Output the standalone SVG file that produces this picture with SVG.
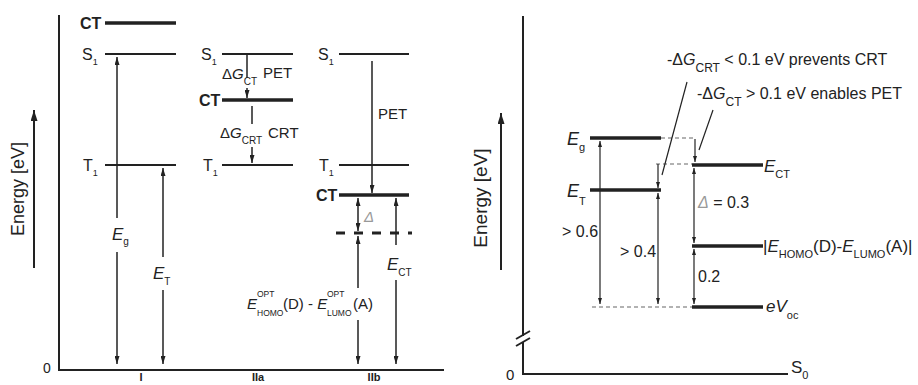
<svg xmlns="http://www.w3.org/2000/svg" width="918" height="385" viewBox="0 0 918 385">
<defs>
<style>
.t{font-family:"Liberation Sans",Arial,sans-serif;fill:#222}
.b{font-weight:bold}
.i{font-style:italic}
.g{fill:#999;font-style:italic}
.ax{stroke:#222;stroke-width:2;fill:none}
.lv{stroke:#222;stroke-width:2.2}
.lvb{stroke:#222;stroke-width:3.5}
.ar{stroke:#222;stroke-width:1.5;fill:none}
.ar2{stroke:#222;stroke-width:1.2;fill:none}
.ds{stroke:#666;stroke-width:1.2;stroke-dasharray:4 3;fill:none}
</style>
<marker id="a" viewBox="0 0 8 5" refX="8" refY="2.5" markerWidth="8" markerHeight="5" markerUnits="userSpaceOnUse" orient="auto-start-reverse"><path d="M0,0 L8,2.5 L0,5 z" fill="#222"/></marker>
<marker id="s" viewBox="0 0 6 4" refX="6" refY="2" markerWidth="6" markerHeight="4" markerUnits="userSpaceOnUse" orient="auto-start-reverse"><path d="M0,0 L6,2 L0,4 z" fill="#222"/></marker>
<marker id="big" viewBox="0 0 11 7" refX="11" refY="3.5" markerWidth="11" markerHeight="7" markerUnits="userSpaceOnUse" orient="auto-start-reverse"><path d="M0,0 L11,3.5 L0,7 z" fill="#222"/></marker>
</defs>
<rect width="918" height="385" fill="#fff"/>

<!-- LEFT PANEL -->
<g id="left-axes">
<line class="ax" x1="59" y1="15" x2="59" y2="370"/>
<line class="ax" x1="58" y1="370" x2="444" y2="370"/>
<line class="ax" x1="34" y1="268" x2="34" y2="110" marker-end="url(#big)"/>
<text class="t" font-size="18" transform="translate(24,189) rotate(-90)" text-anchor="middle">Energy [eV]</text>
<text class="t" font-size="14" x="43" y="373">0</text>
<text class="t b" font-size="11" x="141" y="381" text-anchor="middle">I</text>
<text class="t b" font-size="11" x="258" y="381" text-anchor="middle">IIa</text>
<text class="t b" font-size="11" x="374" y="381" text-anchor="middle">IIb</text>
</g>

<g id="I-CT"><line class="lvb" x1="105" y1="23" x2="176" y2="23"/><text class="t b" font-size="16" x="80" y="29">CT</text></g>
<g id="I-S1"><line class="lv" x1="105" y1="54" x2="176" y2="54"/><text class="t" font-size="16" x="82" y="60">S<tspan font-size="9" dy="5">1</tspan></text></g>
<g id="I-T1"><line class="lv" x1="105" y1="165" x2="176" y2="165"/><text class="t" font-size="16" x="83" y="171">T<tspan font-size="9" dy="5">1</tspan></text></g>

<g id="IIa-S1"><line class="lv" x1="222" y1="54" x2="293" y2="54"/><text class="t" font-size="16" x="201" y="60">S<tspan font-size="9" dy="5">1</tspan></text></g>
<g id="IIa-CT"><line class="lvb" x1="222" y1="100" x2="293" y2="100"/><text class="t b" font-size="16" x="199" y="106">CT</text></g>
<g id="IIa-T1"><line class="lv" x1="222" y1="165" x2="293" y2="165"/><text class="t" font-size="16" x="203" y="171">T<tspan font-size="9" dy="5">1</tspan></text></g>

<g id="IIb-S1"><line class="lv" x1="339" y1="54" x2="409" y2="54"/><text class="t" font-size="16" x="318" y="60">S<tspan font-size="9" dy="5">1</tspan></text></g>
<g id="IIb-T1"><line class="lv" x1="339" y1="165" x2="409" y2="165"/><text class="t" font-size="16" x="319" y="171">T<tspan font-size="9" dy="5">1</tspan></text></g>
<g id="IIb-CT"><line class="lvb" x1="339" y1="195" x2="409" y2="195"/><text class="t b" font-size="16" x="316" y="201">CT</text></g>
<g id="IIb-opt"><line x1="336" y1="233" x2="412" y2="233" stroke="#222" stroke-width="3" stroke-dasharray="9 9"/></g>

<g id="left-connectors">
<line class="ar" x1="117" y1="218" x2="117" y2="57" marker-end="url(#a)"/>
<line class="ar" x1="117" y1="252" x2="117" y2="364" marker-end="url(#a)"/>
<line class="ar" x1="163" y1="257" x2="163" y2="168" marker-end="url(#a)"/>
<line class="ar" x1="163" y1="290" x2="163" y2="364" marker-end="url(#a)"/>
<line class="ar" x1="247" y1="55" x2="247" y2="78"/>
<line class="ar" x1="247" y1="88" x2="247" y2="98" marker-end="url(#a)"/>
<line class="ar" x1="252" y1="106" x2="252" y2="124"/>
<line class="ar" x1="252" y1="147" x2="252" y2="163" marker-end="url(#a)"/>
<line class="ar" x1="372" y1="61" x2="372" y2="193" marker-end="url(#a)"/>
<line class="ar" x1="358" y1="198" x2="358" y2="231" marker-start="url(#a)" marker-end="url(#a)"/>
<line class="ar" x1="358" y1="288" x2="358" y2="236" marker-end="url(#a)"/>
<line class="ar" x1="358" y1="320" x2="358" y2="364" marker-end="url(#a)"/>
<line class="ar" x1="396" y1="245" x2="396" y2="198" marker-end="url(#a)"/>
<line class="ar" x1="396" y1="280" x2="396" y2="364" marker-end="url(#a)"/>
</g>

<g id="left-labels">
<text class="t" font-size="17" x="112" y="240"><tspan class="i">E</tspan><tspan font-size="10" dy="5">g</tspan></text>
<text class="t" font-size="17" x="153" y="279"><tspan class="i">E</tspan><tspan font-size="10" dy="6">T</tspan></text>
<text class="t" font-size="15" x="222" y="79">Δ<tspan class="i">G</tspan><tspan font-size="10" dy="6">CT</tspan></text>
<text class="t" font-size="15" x="263" y="78">PET</text>
<text class="t" font-size="15" x="220" y="138">Δ<tspan class="i">G</tspan><tspan font-size="10" dy="6">CRT</tspan></text>
<text class="t" font-size="15" x="268" y="138">CRT</text>
<text class="t" font-size="15" x="378" y="119">PET</text>
<text class="t g" font-size="15" x="364" y="222">Δ</text>
<text class="t" font-size="17" x="387" y="270"><tspan class="i">E</tspan><tspan font-size="10" dy="6">CT</tspan></text>
<text class="t" font-size="15" x="247" y="309"><tspan class="i">E</tspan></text>
<text class="t" font-size="8.5" x="257" y="297">OPT</text>
<text class="t" font-size="8.5" x="257" y="316">HOMO</text>
<text class="t" font-size="15" x="283" y="309">(D) - <tspan class="i">E</tspan></text>
<text class="t" font-size="8.5" x="327" y="297">OPT</text>
<text class="t" font-size="8.5" x="327" y="316">LUMO</text>
<text class="t" font-size="15" x="353" y="309">(A)</text>
</g>

<!-- RIGHT PANEL -->
<g id="right-axes">
<line class="ax" x1="523" y1="16" x2="523" y2="336"/>
<line class="ax" x1="523" y1="342" x2="523" y2="374"/>
<line class="ax" x1="516" y1="339" x2="530" y2="331"/>
<line class="ax" x1="516" y1="346" x2="530" y2="338"/>
<line class="ax" x1="522" y1="374" x2="788" y2="374"/>
<line class="ax" x1="501" y1="270" x2="501" y2="113" marker-end="url(#big)"/>
<text class="t" font-size="19" transform="translate(487,198) rotate(-90)" text-anchor="middle">Energy [eV]</text>
<text class="t" font-size="15" x="506" y="380">0</text>
<text class="t" font-size="17" x="791" y="373">S<tspan font-size="11" dy="6">0</tspan></text>
</g>

<g id="R-Eg"><line class="lvb" x1="590" y1="138" x2="661" y2="138"/><text class="t" font-size="18" x="567" y="145"><tspan class="i">E</tspan><tspan font-size="11" dy="6">g</tspan></text></g>
<g id="R-ET"><line class="lvb" x1="590" y1="190" x2="661" y2="190"/><text class="t" font-size="18" x="567" y="197"><tspan class="i">E</tspan><tspan font-size="11" dy="8">T</tspan></text></g>
<g id="R-ECT"><line class="lvb" x1="692" y1="165" x2="763" y2="165"/><text class="t" font-size="17" x="764" y="172"><tspan class="i">E</tspan><tspan font-size="11" dy="6">CT</tspan></text></g>
<g id="R-EHL"><line class="lvb" x1="692" y1="246" x2="763" y2="246"/><text class="t" font-size="17" x="763" y="252">|<tspan class="i">E</tspan><tspan font-size="11" dy="6">HOMO</tspan><tspan dy="-6">(D)-</tspan><tspan class="i">E</tspan><tspan font-size="11" dy="6">LUMO</tspan><tspan dy="-6">(A)|</tspan></text></g>
<g id="R-eVoc"><line class="lvb" x1="692" y1="307" x2="763" y2="307"/><text class="t" font-size="17" x="766" y="312"><tspan class="i">eV</tspan><tspan font-size="11" dy="7">oc</tspan></text></g>

<g id="right-connectors">
<line class="ds" x1="661" y1="138" x2="695" y2="138"/>
<line class="ds" x1="656" y1="164" x2="692" y2="164"/>
<line class="ds" x1="592" y1="307" x2="692" y2="307"/>
<line class="ar2" x1="695" y1="139" x2="695" y2="162" marker-end="url(#s)"/>
<line class="ar2" x1="658" y1="164" x2="658" y2="188" marker-end="url(#s)"/>
<line class="ar2" x1="600" y1="141" x2="600" y2="304" marker-start="url(#s)" marker-end="url(#s)"/>
<line class="ar2" x1="658" y1="193" x2="658" y2="304" marker-start="url(#s)" marker-end="url(#s)"/>
<line class="ar2" x1="694" y1="168" x2="694" y2="243" marker-start="url(#s)" marker-end="url(#s)"/>
<line class="ar2" x1="694" y1="249" x2="694" y2="304" marker-start="url(#s)" marker-end="url(#s)"/>
<line class="ar2" x1="687" y1="82" x2="662" y2="175"/>
<line class="ar2" x1="713" y1="110" x2="699" y2="150"/>
</g>

<g id="right-labels">
<text class="t" font-size="16" x="562" y="237">&gt; 0.6</text>
<text class="t" font-size="16" x="620" y="257">&gt; 0.4</text>
<text class="t" font-size="16" x="698" y="208"><tspan class="g">Δ</tspan> = 0.3</text>
<text class="t" font-size="16" x="698" y="282">0.2</text>
<text class="t" font-size="16" x="667" y="65">-Δ<tspan class="i">G</tspan><tspan font-size="12" dy="7">CRT</tspan><tspan dy="-7"> &lt; 0.1 eV prevents CRT</tspan></text>
<text class="t" font-size="16" x="697" y="99">-Δ<tspan class="i">G</tspan><tspan font-size="12" dy="7">CT</tspan><tspan dy="-7"> &gt; 0.1 eV enables PET</tspan></text>
</g>
</svg>
